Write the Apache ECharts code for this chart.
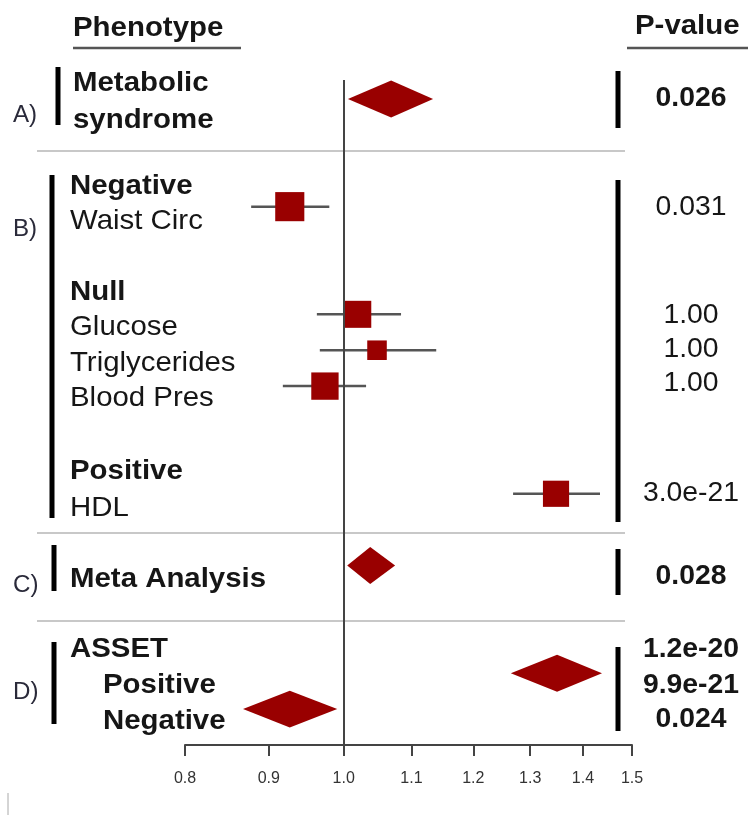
<!DOCTYPE html>
<html><head><meta charset="utf-8">
<script src="https://cdn.jsdelivr.net/npm/echarts@6/dist/echarts.min.js"></script>
<style>html,body{margin:0;padding:0;background:#fff}#c{width:748px;height:818px}</style>
</head><body><div id="c"></div>
<script>
// ---- data ----
const tickValues = [0.8, 0.9, 1.0, 1.1, 1.2, 1.3, 1.4, 1.5];

const squareNames = ['Waist Circ', 'Glucose', 'Triglycerides', 'Blood Pres', 'HDL'];
const squareRows  = [3, 6, 7, 8, 11];
const squareEst   = [0.927, 1.020, 1.048, 0.974, 1.348];
const squareLo    = [0.878, 0.963, 0.967, 0.918, 1.269];
const squareHi    = [0.980, 1.084, 1.139, 1.032, 1.434];

const diamondNames = ['Metabolic syndrome', 'Meta Analysis', 'ASSET Positive', 'ASSET Negative'];
const diamondRows  = [0, 13, 16, 17];
const diamondEst   = [1.069, 1.038, 1.350, 0.927];
const diamondLo    = [1.006, 1.005, 1.265, 0.868];
const diamondHi    = [1.134, 1.075, 1.438, 0.991];

const headerLabels = ['Phenotype', 'P-value'];
const sectionLabels = ['A)', 'B)', 'C)', 'D)'];
const phenotypeLabels = ['Metabolic', 'syndrome', 'Negative', 'Waist Circ', 'Null', 'Glucose',
  'Triglycerides', 'Blood Pres', 'Positive', 'HDL', 'Meta Analysis', 'ASSET', 'Positive', 'Negative'];
const pValues = ['0.026', '0.031', '1.00', '1.00', '1.00', '3.0e-21', '0.028', '1.2e-20', '9.9e-21', '0.024'];

// ---- layout / style ----
const FONT = "'Liberation Sans', Arial, sans-serif";
const RED = '#990000';
const TXT = '#161616';
const SX = 1.05;
const DY = 2; // baseline adjustment for 'middle' alignment

const phenoLayout = [
  [73, 81, true], [73, 118, true],
  [70, 184, true], [70, 219, false],
  [70, 290, true], [70, 325, false], [70, 361, false], [70, 396, false],
  [70, 469, true], [70, 506, false],
  [70, 577, true],
  [70, 647, true], [103, 683, true], [103, 719, true]
];
const sectionLayout = [[13, 114], [13, 228], [13, 584], [13, 691]];
const pLayout = [
  [97, true], [206, false], [314, false], [348, false], [382, false], [492, false],
  [575, true], [648, true], [684, true], [718, true]
];
const leftBars = [[58, 67, 125], [52, 175, 518], [54, 545, 591], [54, 642, 724]];
const rightBars = [[618, 71, 128], [618, 180, 522], [618, 549, 595], [618, 647, 731]];
const separators = [151, 533, 621];

const graphics = [];
function txt(x, y, text, size, bold, align, color) {
  graphics.push({
    type: 'text', x: x, y: y + DY, scaleX: SX, silent: true, z: 10,
    style: { text: text, x: 0, y: 0, fontSize: size, fontWeight: bold ? 'bold' : 'normal',
      fontFamily: FONT, fill: color || TXT, align: align || 'left', verticalAlign: 'middle' }
  });
}
txt(73, 26, headerLabels[0], 28, true);
txt(635, 24, headerLabels[1], 28, true);
graphics.push({ type: 'line', silent: true, shape: { x1: 73, y1: 48, x2: 241, y2: 48 }, style: { stroke: '#555', lineWidth: 2.5 } });
graphics.push({ type: 'line', silent: true, shape: { x1: 627, y1: 48, x2: 748, y2: 48 }, style: { stroke: '#555', lineWidth: 2.5 } });
phenotypeLabels.forEach((t, i) => txt(phenoLayout[i][0], phenoLayout[i][1], t, 28, phenoLayout[i][2]));
sectionLabels.forEach((t, i) => txt(sectionLayout[i][0], sectionLayout[i][1], t, 23, false, 'left', '#2a2a3a'));
pValues.forEach((t, i) => txt(691, pLayout[i][0], t, 27, pLayout[i][1], 'center'));
leftBars.concat(rightBars).forEach(b => graphics.push({
  type: 'rect', silent: true, shape: { x: b[0] - 2.5, y: b[1], width: 5, height: b[2] - b[1] }, style: { fill: '#000' }
}));
separators.forEach(y => graphics.push({
  type: 'line', silent: true, z: -1, shape: { x1: 37, y1: y, x2: 625, y2: y }, style: { stroke: '#c8c8c8', lineWidth: 2 }
}));
graphics.push({ type: 'line', silent: true, shape: { x1: 8, y1: 793, x2: 8, y2: 815 }, style: { stroke: '#aaa', lineWidth: 1 } });

const BOX_K = 3.2; // box size (px) * CI width (log units)
const lnTicks = tickValues.map(Math.log);

const option = {
  animation: false,
  backgroundColor: '#fff',
  grid: { left: 185, right: 116, top: 27.2, bottom: 73, containLabel: false, outerBoundsMode: 'none' },
  xAxis: {
    type: 'value', min: Math.log(0.8), max: Math.log(1.5), position: 'bottom',
    axisLine: { show: true, onZero: false, lineStyle: { color: '#444', width: 2 } },
    axisTick: { show: true, customValues: lnTicks, length: 11, lineStyle: { color: '#444', width: 2 } },
    axisLabel: { customValues: lnTicks, formatter: v => Math.exp(v).toFixed(1), color: '#333',
      fontSize: 16, margin: 26, fontFamily: FONT },
    splitLine: { show: false }
  },
  yAxis: { type: 'value', inverse: true, min: -2, max: 18, show: false },
  graphic: graphics,
  series: [
    {
      type: 'custom', name: 'CI', silent: true, z: 2,
      data: squareRows.map((r, i) => [Math.log(squareLo[i]), Math.log(squareHi[i]), r]),
      encode: { x: [0, 1], y: 2 },
      renderItem: (params, api) => {
        const a = api.coord([api.value(0), api.value(2)]);
        const b = api.coord([api.value(1), api.value(2)]);
        return { type: 'line', shape: { x1: a[0], y1: a[1], x2: b[0], y2: b[1] }, style: { stroke: '#555', lineWidth: 2.5 } };
      },
      markLine: {
        silent: true, symbol: ['none', 'none'], label: { show: false },
        lineStyle: { color: '#444', width: 2, type: 'solid' },
        data: [[{ coord: [Math.log(1.0), -0.53] }, { coord: [Math.log(1.0), 18] }]]
      }
    },
    {
      type: 'scatter', name: 'Estimate', silent: true, z: 3,
      symbol: 'rect',
      data: squareRows.map((r, i) => [Math.log(squareEst[i]), r]),
      symbolSize: (val, p) => BOX_K / (Math.log(squareHi[p.dataIndex]) - Math.log(squareLo[p.dataIndex])),
      itemStyle: { color: RED, opacity: 1 }
    },
    {
      type: 'custom', name: 'Summary', silent: true, z: 3,
      data: diamondRows.map((r, i) => [Math.log(diamondLo[i]), Math.log(diamondEst[i]), Math.log(diamondHi[i]), r]),
      encode: { x: [0, 1, 2], y: 3 },
      renderItem: (params, api) => {
        const row = api.value(3);
        const lo = api.coord([api.value(0), row]);
        const est = api.coord([api.value(1), row]);
        const hi = api.coord([api.value(2), row]);
        const h = api.size([0, 0.515])[1];
        return { type: 'polygon', shape: { points: [lo, [est[0], est[1] - h], hi, [est[0], est[1] + h]] }, style: { fill: RED } };
      }
    }
  ]
};

const chart = echarts.init(document.getElementById('c'), null, { renderer: 'canvas' });
chart.setOption(option);
</script>
</body></html>
